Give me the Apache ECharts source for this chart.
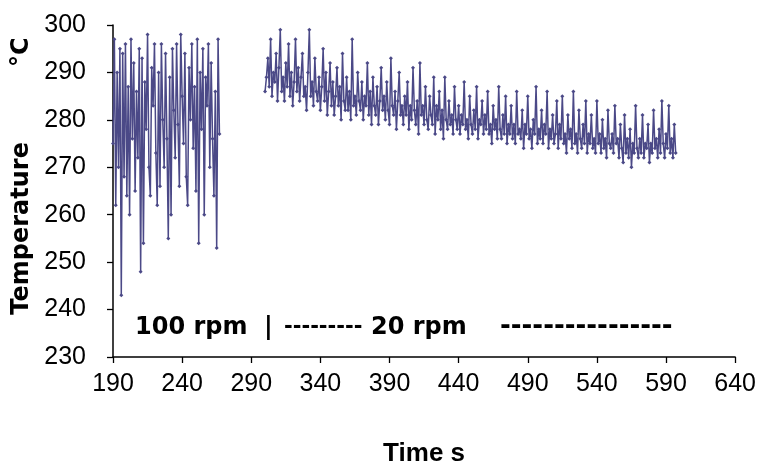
<!DOCTYPE html>
<html>
<head>
<meta charset="utf-8">
<script src="https://cdn.jsdelivr.net/npm/echarts@6/dist/echarts.min.js"></script>
<style>
html,body{margin:0;padding:0;background:#fff;}
#chart{width:759px;height:476px;}
</style>
</head>
<body>
<div id="chart"></div>
<script>
// Segment 1 (100 rpm): time start and step in seconds, temperatures in °C
const seg1Start = 190;
const seg1Step = 1;
const seg1Temps = [
  275, 297, 262, 290, 270, 295, 243, 294, 268, 296,
  264, 287, 260, 297, 276, 292, 265, 286, 272, 295,
  248, 293, 254, 288, 278, 298, 270, 264, 291, 283,
  296, 273, 262, 290, 266, 296, 280, 270, 294, 276,
  255, 289, 260, 295, 282, 272, 296, 279, 266, 298,
  285, 275, 294, 268, 262, 291, 280, 296, 274, 287,
  265, 297, 254, 290, 278, 295, 260, 289, 283, 296,
  270, 292, 276, 264, 286, 253, 297, 277
];

// Segment 2 (20 rpm)
const seg2Start = 300;
const seg2Step = 1;
const seg2Temps = [
  286, 289, 293, 287, 297, 285, 290, 288, 294, 284,
  291, 299, 286, 289, 284, 292, 287, 296, 285, 290,
  283, 288, 297, 286, 291, 284, 289, 294, 285, 287,
  282, 290, 299, 285, 288, 283, 293, 286, 284, 289,
  282, 287, 295, 284, 290, 281, 286, 292, 283, 288,
  281, 285, 291, 283, 287, 280, 294, 284, 282, 289,
  282, 286, 280, 297, 283, 285, 281, 290, 284, 282,
  288, 280, 285, 283, 292, 281, 286, 279, 289, 283,
  281, 287, 279, 284, 291, 282, 285, 280, 288, 282,
  279, 293, 283, 281, 286, 278, 284, 290, 281, 283,
  279, 285, 281, 288, 278, 283, 280, 291, 282, 279,
  284, 277, 292, 281, 283, 279, 287, 280, 278, 285,
  281, 279, 289, 277, 283, 280, 286, 278, 282, 276,
  289, 280, 278, 284, 279, 281, 277, 287, 280, 278,
  283, 277, 281, 279, 288, 278, 280, 276, 285, 279,
  277, 282, 278, 287, 276, 280, 279, 284, 277, 281,
  278, 286, 277, 279, 275, 283, 278, 280, 276, 287,
  278, 276, 281, 277, 285, 275, 279, 277, 283, 276,
  279, 275, 286, 277, 278, 276, 282, 274, 279, 277,
  285, 276, 278, 274, 280, 277, 287, 275, 278, 276,
  282, 275, 279, 277, 286, 274, 278, 276, 281, 275,
  277, 284, 274, 279, 276, 285, 275, 277, 273, 281,
  276, 278, 274, 286, 275, 277, 273, 282, 276, 274,
  279, 275, 284, 273, 277, 275, 281, 274, 276, 273,
  284, 275, 277, 273, 280, 274, 276, 272, 282, 275,
  274, 277, 273, 283, 275, 276, 272, 279, 274, 271,
  281, 273, 276, 272, 278, 270, 275, 273, 283, 274,
  272, 276, 273, 281, 272, 275, 274, 279, 271, 275,
  273, 282, 274, 276, 272, 278, 273, 284, 275, 272,
  277, 274, 283, 273, 276, 272, 279, 273
];

// Axis ticks
const xMin = 190, xMax = 640, xInterval = 50;
const yMin = 230, yMax = 300, yInterval = 10;

// Annotation pieces
const annotation = ['100 rpm', '|', '---------', '20 rpm', '----------------'];

const seg1 = seg1Temps.map((v, i) => [seg1Start + i * seg1Step, v]);
const seg2 = seg2Temps.map((v, i) => [seg2Start + i * seg2Step, v]);

const lineColor = '#4B4987';
const axisFont = "'Liberation Sans Narrow', 'Liberation Sans', sans-serif";

function seriesOf(data) {
  return {
    type: 'line',
    data: data,
    showSymbol: true,
    symbol: 'diamond',
    symbolSize: 4,
    itemStyle: {color: lineColor},
    lineStyle: {color: lineColor, width: 1.5},
    emphasis: {disabled: true},
    animation: false
  };
}

const chart = echarts.init(document.getElementById('chart'), null, {renderer: 'canvas'});
const annX = [135, 264, 284, 371, 500];
const annSize = [24, 24, 21, 24, 26];
chart.setOption({
  animation: false,
  backgroundColor: '#ffffff',
  grid: {left: 113, right: 21, top: 25, bottom: 119, containLabel: false},
  xAxis: {
    type: 'value',
    min: xMin, max: xMax, interval: xInterval,
    name: 'Time s',
    nameLocation: 'middle',
    nameGap: 84,
    nameTextStyle: {fontFamily: axisFont, fontWeight: 'bold', fontSize: 26, color: '#000'},
    axisLine: {show: true, onZero: false, lineStyle: {color: '#000', width: 1.5}},
    axisTick: {show: true, inside: false, length: 6, lineStyle: {color: '#000', width: 1.3}},
    axisLabel: {fontFamily: axisFont, fontSize: 25, color: '#000', margin: 15},
    splitLine: {show: false}
  },
  yAxis: {
    type: 'value',
    min: yMin, max: yMax, interval: yInterval,
    name: 'Temperature         °C',
    nameLocation: 'middle',
    nameRotate: 90,
    nameGap: 71,
    nameTextStyle: {fontFamily: 'DejaVu Sans', fontWeight: 'bold', fontSize: 24, color: '#000', padding: [0, 0, 0, 30]},
    axisLine: {show: true, onZero: false, lineStyle: {color: '#000', width: 1.5}},
    axisTick: {show: true, inside: false, length: 6, lineStyle: {color: '#000', width: 1.3}},
    axisLabel: {fontFamily: axisFont, fontSize: 25, color: '#000', margin: 27},
    splitLine: {show: false}
  },
  graphic: annotation.map((t, i) => ({
    type: 'text',
    left: annX[i],
    top: 330 - annSize[i] * 0.6,
    style: {text: t, fontFamily: 'DejaVu Sans', fontWeight: 'bold', fontSize: annSize[i], fill: '#000'}
  })),
  series: [seriesOf(seg1), seriesOf(seg2)]
});
</script>
</body>
</html>
